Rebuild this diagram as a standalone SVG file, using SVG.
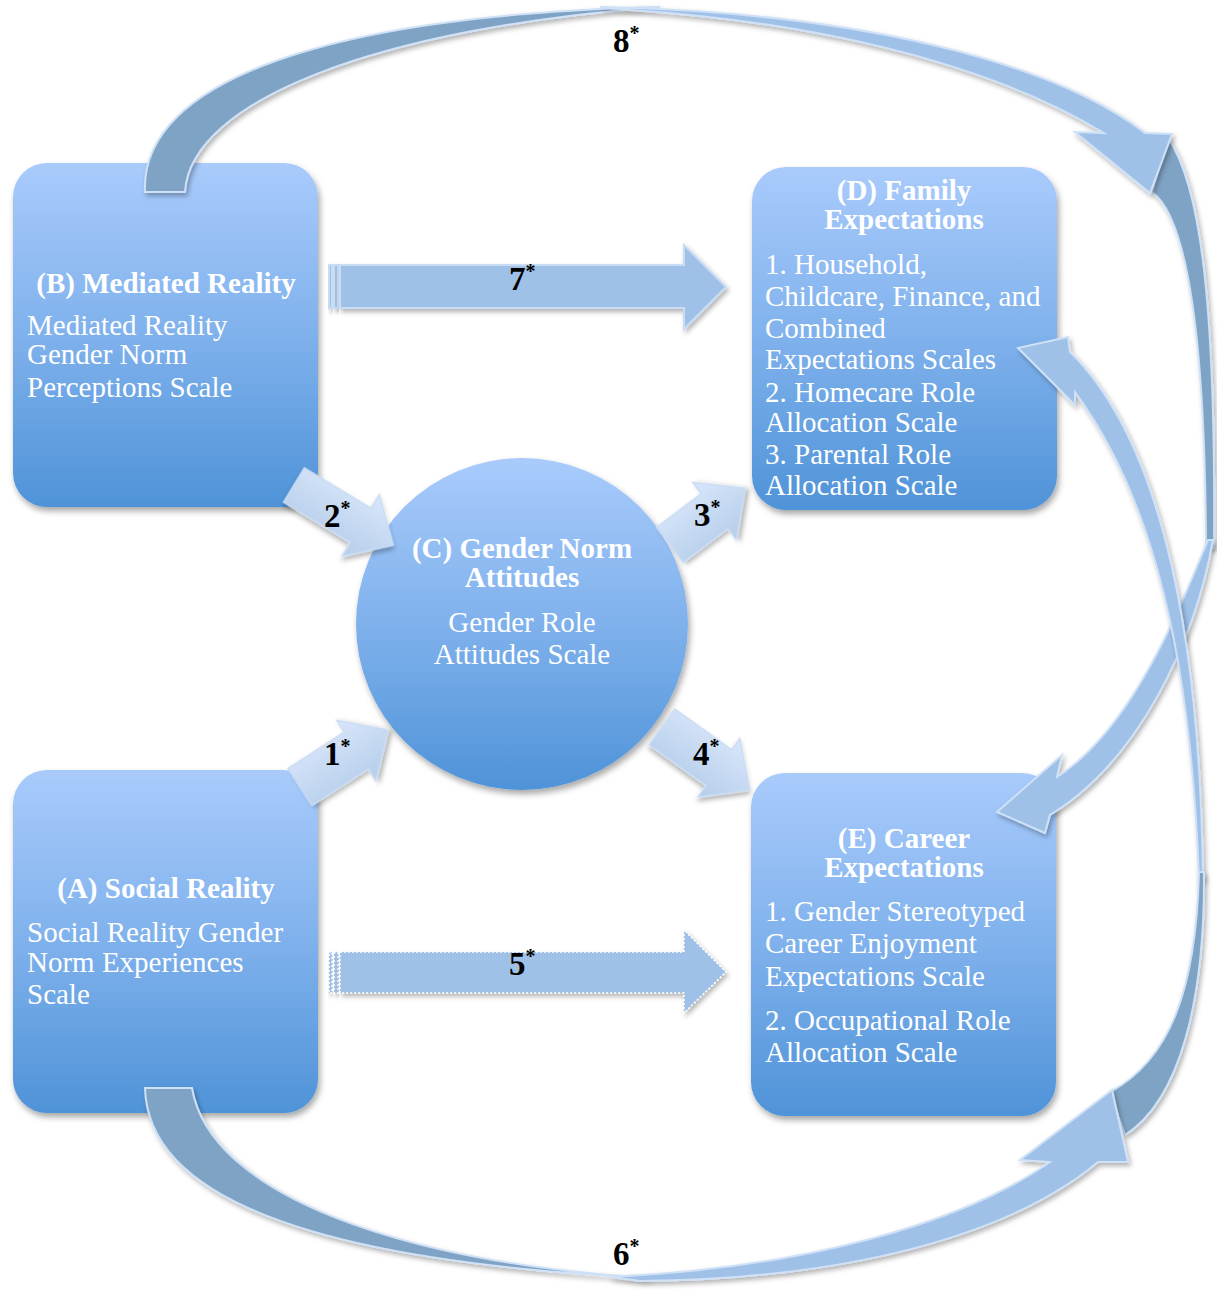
<svg xmlns="http://www.w3.org/2000/svg" width="1217" height="1289" viewBox="0 0 1217 1289">
<defs>
<linearGradient id="gBox" x1="0" y1="0" x2="0" y2="1">
<stop offset="0" stop-color="#a9cbfc"/>
<stop offset="0.5" stop-color="#7fb1ec"/>
<stop offset="1" stop-color="#4f93d8"/>
</linearGradient>
<linearGradient id="gSmall" x1="0" y1="0" x2="0" y2="1">
<stop offset="0" stop-color="#d8e6fb"/>
<stop offset="1" stop-color="#b5cde9"/>
</linearGradient>
<filter id="sh" x="-20%" y="-20%" width="140%" height="140%">
<feDropShadow dx="2" dy="4" stdDeviation="3" flood-color="#000" flood-opacity="0.35"/>
</filter>
<filter id="sh2" x="-20%" y="-20%" width="140%" height="140%">
<feDropShadow dx="2" dy="3" stdDeviation="2.5" flood-color="#000" flood-opacity="0.3"/>
</filter>
</defs>
<style>
.box{fill:url(#gBox);filter:url(#sh)}
.t{font-family:"Liberation Serif","Times New Roman",serif;fill:#fff;font-size:29px}
.tb{font-weight:bold;text-anchor:middle}
.sm{fill:url(#gSmall);stroke:#c9dcf4;stroke-width:1.5;filter:url(#sh2)}
.st{fill:#9fc1e8;stroke:#c8dcf4;stroke-width:2;filter:url(#sh2)}
.dot{fill:#9fc1e8;stroke:#ffffff;stroke-width:1.5;stroke-dasharray:2 2;filter:url(#sh2)}
.dk{fill:#7fa3c4;stroke:#cfe1f6;stroke-width:2;filter:url(#sh2)}
.lt{fill:#9fc1e8;stroke:#cfe1f6;stroke-width:2;filter:url(#sh2)}
.lbl{font-family:"Liberation Serif","Times New Roman",serif;font-weight:bold;font-size:33px;fill:#000}
.sup{font-size:20px}
</style>

<g id="nodeD">
<rect class="box" x="752" y="167" width="305" height="343" rx="34"/>
<text class="t tb" x="904" y="200">(D) Family</text>
<text class="t tb" x="904" y="229">Expectations</text>
<text class="t" x="765" y="274">1. Household,</text>
<text class="t" x="765" y="306">Childcare, Finance, and</text>
<text class="t" x="765" y="338">Combined</text>
<text class="t" x="765" y="369">Expectations Scales</text>
<text class="t" x="765" y="402">2. Homecare Role</text>
<text class="t" x="765" y="432">Allocation Scale</text>
<text class="t" x="765" y="464">3. Parental Role</text>
<text class="t" x="765" y="495">Allocation Scale</text>
</g>

<g id="nodeE">
<rect class="box" x="751" y="773" width="305" height="343" rx="34"/>
<text class="t tb" x="904" y="848">(E) Career</text>
<text class="t tb" x="904" y="877">Expectations</text>
<text class="t" x="765" y="921">1. Gender Stereotyped</text>
<text class="t" x="765" y="953">Career Enjoyment</text>
<text class="t" x="765" y="986">Expectations Scale</text>
<text class="t" x="765" y="1030">2. Occupational Role</text>
<text class="t" x="765" y="1062">Allocation Scale</text>
</g>

<g id="nodeB">
<rect class="box" x="13" y="163" width="305" height="344" rx="34"/>
<text class="t tb" x="166" y="293">(B) Mediated Reality</text>
<text class="t" x="27" y="335">Mediated Reality</text>
<text class="t" x="27" y="364">Gender Norm</text>
<text class="t" x="27" y="397">Perceptions Scale</text>
</g>

<g id="nodeC">
<circle class="box" cx="522" cy="624" r="166"/>
<text class="t tb" x="522" y="558">(C) Gender Norm</text>
<text class="t tb" x="522" y="587">Attitudes</text>
<text class="t" x="522" y="632" text-anchor="middle">Gender Role</text>
<text class="t" x="522" y="664" text-anchor="middle">Attitudes Scale</text>
</g>

<g id="nodeA">
<rect class="box" x="13" y="770" width="305" height="343" rx="34"/>
<text class="t tb" x="166" y="898">(A) Social Reality</text>
<text class="t" x="27" y="942">Social Reality Gender</text>
<text class="t" x="27" y="972">Norm Experiences</text>
<text class="t" x="27" y="1004">Scale</text>
</g>

<g id="connectors">
<!-- small arrows 1-4 -->
<polygon class="sm" transform="translate(294,485) rotate(31.2)" points="0,-20 78,-20 78,-36 116,0 78,36 78,20 0,20"/>
<polygon class="sm" transform="translate(670,545) rotate(-37.2)" points="0,-22 56,-22 56,-36 94,0 56,36 56,22 0,22"/>
<polygon class="sm" transform="translate(300,787) rotate(-32.9)" points="0,-22 67,-22 67,-36 105,0 67,36 67,22 0,22"/>
<polygon class="sm" transform="translate(662,727) rotate(35.6)" points="0,-22 70,-22 70,-36 108,0 70,36 70,22 0,22"/>

<!-- arrow 7 (striped) -->
<g id="arrow7">
<rect class="st" x="329" y="265" width="3" height="43"/>
<rect class="st" x="334" y="265" width="4" height="43"/>
<polygon class="st" points="340,265 684,265 684,245 726,287 684,329 684,308 340,308"/>
</g>
<!-- arrow 5 (striped, dotted) -->
<g id="arrow5">
<rect class="dot" x="329" y="952" width="3" height="41"/>
<rect class="dot" x="334" y="952" width="4" height="41"/>
<polygon class="dot" points="340,952 684,952 684,930 726,972 684,1013 684,993 340,993"/>
</g>

<!-- arrow 8 : back (dark) part from B -->
<path class="dk" d="M145,192 C140,80 330,15 660,7 C380,28 190,100 185,192 Z"/>
<!-- dark back behind head 8 on the right side -->
<path class="dk" d="M1152,192 C1185,215 1205,320 1206,548 L1214,548 C1216,300 1200,185 1168,138 Z"/>
<!-- arrow 8 : front (light) part with head -->
<path class="lt" d="M600,7 C850,12 1050,60 1145,133 L1172,134 L1150,193 L1075,132 L1104,133 C1020,82 870,26 630,10 Z"/>

<!-- arrow to E (light) -->
<path class="lt" d="M1208,540 C1175,620 1130,730 1057,777 L1062,755 L997,812 L1045,833 L1050,815 C1140,760 1195,640 1213,540 Z"/>
<!-- arrow to D (light) -->
<path class="lt" d="M1075,392 L1075,405 L1018,348 L1068,337 L1070,352 C1150,430 1200,600 1203,880 L1199,880 C1190,620 1140,480 1075,392 Z"/>
<!-- arrow 6 : dark back on the right going to head -->
<path class="dk" d="M1199,872 C1196,990 1170,1060 1110,1092 L1125,1135 C1180,1100 1205,1000 1204,872 Z"/>
<!-- arrow 6 : back (dark) part from A -->
<path class="dk" d="M145,1088 C148,1200 320,1262 650,1278 C400,1262 210,1195 192,1088 Z"/>
<!-- arrow 6 : front (light) with head -->
<path class="lt" d="M610,1277 C800,1268 960,1225 1050,1162 L1020,1160 L1112,1090 L1128,1162 L1098,1162 C1010,1235 850,1279 640,1281 Z"/>
</g>

<g id="labels">
<text class="lbl" x="613" y="52">8<tspan class="sup" dy="-12">*</tspan></text>
<text class="lbl" x="613" y="1265">6<tspan class="sup" dy="-12">*</tspan></text>
<text class="lbl" x="509" y="290">7<tspan class="sup" dy="-12">*</tspan></text>
<text class="lbl" x="509" y="975">5<tspan class="sup" dy="-12">*</tspan></text>
<text class="lbl" x="324" y="527">2<tspan class="sup" dy="-12">*</tspan></text>
<text class="lbl" x="694" y="526">3<tspan class="sup" dy="-12">*</tspan></text>
<text class="lbl" x="324" y="765">1<tspan class="sup" dy="-12">*</tspan></text>
<text class="lbl" x="693" y="765">4<tspan class="sup" dy="-12">*</tspan></text>
</g>
</svg>
